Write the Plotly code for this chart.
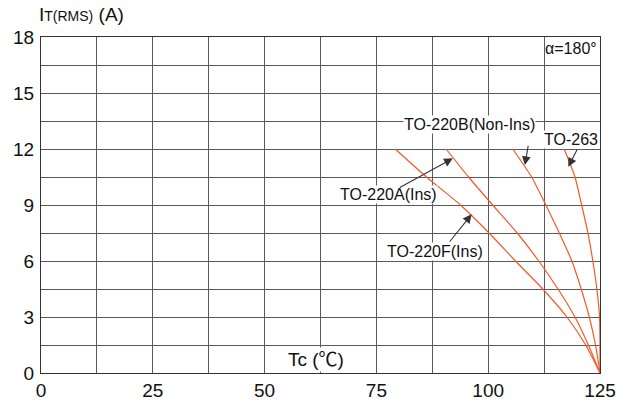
import plotly.graph_objects as go

# Case temperature (°C) vs RMS on-state current (A)
i_levels = [12, 10.5, 9, 7.5, 6, 4.5, 3, 1.5, 0]
tc_220f = [79.2, 86.2, 93.8, 100.2, 106.1, 112.2, 117.6, 121.8, 125]
tc_220a = [90.6, 95.6, 101.0, 106.5, 111.3, 115.6, 119.4, 122.4, 125]
tc_220b = [105.5, 109.7, 112.9, 115.9, 118.7, 120.8, 122.6, 124.0, 125]
tc_263 = [117.0, 119.4, 120.9, 122.3, 123.4, 124.3, 124.9, 125, 125]

x_ticks = [0, 25, 50, 75, 100, 125]
y_ticks = [0, 3, 6, 9, 12, 15, 18]

series = [("TO-220F(Ins)", tc_220f), ("TO-220A(Ins)", tc_220a),
          ("TO-220B(Non-Ins)", tc_220b), ("TO-263", tc_263)]

FONT = "Liberation Sans, Arial, sans-serif"
LINE = "#F05A28"
GRID = "#5a5a5a"

fig = go.Figure()
for name, tc in series:
    fig.add_trace(go.Scatter(x=tc, y=i_levels, mode="lines", name=name,
                             line=dict(color=LINE, width=1.2, shape="spline", smoothing=0.6),
                             showlegend=False))

ann = []
labels = [
    ("TO-220B(Non-Ins)", 95.9, 13.29),
    ("TO-263", 118.6, 12.52),
    ("TO-220A(Ins)", 77.6, 9.57),
    ("TO-220F(Ins)", 88.1, 6.50),
]
for t, x, y in labels:
    ann.append(dict(x=x, y=y, xref="x", yref="y", text=t, showarrow=False,
                    font=dict(family=FONT, size=16, color="#111"),
                    bgcolor="white", borderpad=0))
arrows = [
    (108.2, 11.14, 109.0, 12.25),
    (117.9, 11.05, 120.1, 12.07),
    (92.1, 11.50, 79.9, 9.89),
    (96.3, 8.50, 91.1, 6.95),
]
for hx, hy, tx, ty in arrows:
    ann.append(dict(x=hx, y=hy, ax=tx, ay=ty, xref="x", yref="y",
                    axref="x", ayref="y", text="", showarrow=True,
                    arrowhead=2, arrowsize=1.6, arrowwidth=1.1,
                    arrowcolor="#333"))
ann.append(dict(x=118.5, y=17.41, xref="x", yref="y", text="α=180°",
                showarrow=False, font=dict(family=FONT, size=16, color="#111")))
ann.append(dict(x=61.5, y=0.75, xref="x", yref="y", text="Tc (℃)",
                showarrow=False, bgcolor="white", borderpad=1,
                font=dict(family="Liberation Sans, Noto Sans CJK SC, sans-serif",
                          size=19, color="#111")))
ann.append(dict(x=-0.008, y=1.068, xref="paper", yref="paper",
                xanchor="left", yanchor="middle", showarrow=False,
                text="I<span style='font-size:14px'>T(RMS)</span> (A)",
                font=dict(family=FONT, size=19, color="#111")))

fig.update_layout(
    width=624, height=395,
    margin=dict(l=33, r=32, t=29, b=30),
    paper_bgcolor="white", plot_bgcolor="white",
    font=dict(family=FONT, size=19, color="#111"),
    annotations=ann,
)
fig.update_xaxes(range=[0, 125], tickvals=x_ticks, ticktext=[str(v) for v in x_ticks],
                 showgrid=True, gridcolor=GRID, gridwidth=1,
                 minor=dict(dtick=12.5, tick0=0, showgrid=True, gridcolor=GRID, gridwidth=1),
                 showline=True, linecolor="#333", linewidth=1.2, mirror=True,
                 ticks="", zeroline=False, tickfont=dict(size=19), automargin=False)
fig.update_yaxes(range=[0, 18], tickvals=y_ticks, ticktext=[str(v) for v in y_ticks],
                 showgrid=True, gridcolor=GRID, gridwidth=1,
                 minor=dict(dtick=1.5, tick0=0, showgrid=True, gridcolor=GRID, gridwidth=1),
                 showline=True, linecolor="#333", linewidth=1.2, mirror=True,
                 ticks="", zeroline=False, tickfont=dict(size=19), ticklabelstandoff=2,
                 automargin=False)

fig.write_html("out.html")
